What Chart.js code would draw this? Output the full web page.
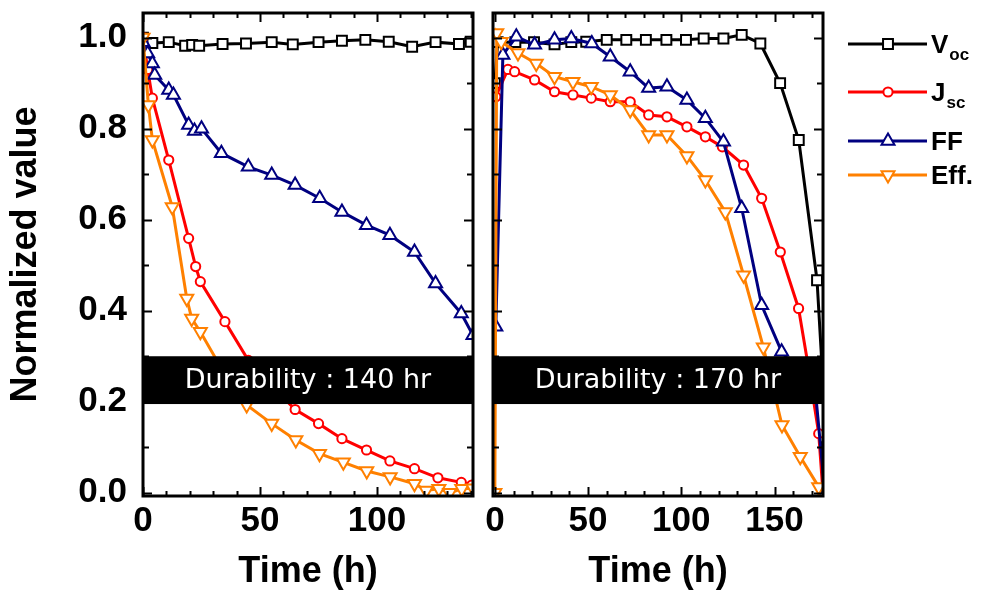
<!DOCTYPE html>
<html><head><meta charset="utf-8">
<script src="https://cdn.jsdelivr.net/npm/chart.js@4.4.1/dist/chart.umd.min.js"></script>
<style>
html,body{margin:0;padding:0;background:#fff;}
#wrap{position:relative;width:989px;height:590px;overflow:hidden;background:#fff;}
#c1{position:absolute;left:0;top:0;}
#c2{position:absolute;left:480px;top:0;}
</style></head><body>
<div id="wrap"><canvas id="c1" width="480" height="590"></canvas><canvas id="c2" width="509" height="590"></canvas></div>
<script>
// ---------- data ----------
const SERIES_LABELS = ['V', 'J', 'FF', 'Eff.'];
const SERIES_SUBS = ['oc', 'sc', '', ''];
const Y_TICKS = [0, 0.2, 0.4, 0.6, 0.8, 1.0];
const X_TICKS_LEFT = [0, 50, 100];
const X_TICKS_RIGHT = [0, 50, 100, 150];
const X_TITLE = 'Time (h)';
const Y_TITLE = 'Normalized value';
const BAND_TEXT_LEFT = 'Durability : 140 hr';
const BAND_TEXT_RIGHT = 'Durability : 170 hr';
const BAND_RANGE = [0.195, 0.3];

// left panel
const T_VOC_L = [0, 4, 11, 18, 21, 24, 34, 44, 55, 64, 75, 85, 95, 105, 115, 125, 135, 140];
const VOC_L   = [1.00, 0.988, 0.990, 0.982, 0.984, 0.982, 0.986, 0.987, 0.990, 0.985, 0.990, 0.993, 0.995, 0.991, 0.980, 0.990, 0.986, 0.991];
const T_JSC_L = [0, 2, 4, 11, 19.5, 22.5, 24.5, 35, 45, 55, 65, 75, 85, 95.5, 105.5, 116, 126, 136, 140.5];
const JSC_L   = [1.00, 0.93, 0.867, 0.731, 0.559, 0.497, 0.464, 0.376, 0.291, 0.235, 0.183, 0.152, 0.119, 0.094, 0.070, 0.053, 0.033, 0.023, 0.017];
const T_FF_L  = [0, 2, 4, 5, 11, 13, 19.5, 22, 25, 33.5, 45, 55, 65, 75.5, 85, 95.5, 105.5, 116, 125, 136, 141];
const FF_L    = [0.99, 0.965, 0.943, 0.918, 0.885, 0.874, 0.808, 0.795, 0.80, 0.746, 0.716, 0.698, 0.676, 0.647, 0.617, 0.588, 0.566, 0.529, 0.46, 0.394, 0.346];
const T_EFF_L = [0, 2.3, 4, 12.5, 18.7, 20.8, 24.5, 35, 44.3, 55, 65.3, 75.4, 85.6, 95.6, 105.6, 116, 121, 126.4, 131, 136.2, 141];
const EFF_L   = [1.00, 0.852, 0.775, 0.628, 0.427, 0.383, 0.354, 0.26, 0.193, 0.152, 0.116, 0.086, 0.067, 0.048, 0.035, 0.020, 0.005, 0.009, 0.0, 0.009, 0.01];

// right panel
const T_VOC_R = [0, 1.5, 11, 21, 32, 41, 49, 60, 70.5, 81, 92, 102.5, 112, 122.6, 132.4, 142.4, 153, 163, 172.8, 178];
const VOC_R   = [0.90, 0.99, 0.99, 0.99, 0.985, 0.99, 0.991, 0.995, 0.995, 0.995, 0.995, 0.995, 0.998, 0.998, 1.006, 0.987, 0.90, 0.775, 0.467, 0.1];
const T_JSC_R = [0.5, 7, 10.6, 21.3, 32, 41.9, 51.7, 61.9, 72.6, 82.5, 92.3, 103, 112.9, 122, 133.4, 143.1, 153.1, 162.9, 168, 173.7, 176];
const JSC_R   = [0.87, 0.93, 0.925, 0.907, 0.881, 0.874, 0.867, 0.859, 0.859, 0.830, 0.826, 0.804, 0.782, 0.76, 0.72, 0.647, 0.529, 0.405, 0.28, 0.13, 0.0];
const T_FF_R  = [0.5, 4.3, 11.5, 21.3, 32, 41, 52, 61.9, 72.6, 82.5, 92.3, 103, 112.9, 122.6, 132.4, 143.1, 153.8, 164, 172, 177];
const FF_R    = [0.365, 0.962, 1.002, 0.984, 0.995, 0.998, 0.987, 0.958, 0.925, 0.889, 0.892, 0.863, 0.823, 0.771, 0.625, 0.412, 0.31, 0.26, 0.22, 0.0];
const T_EFF_R = [0, 1, 3.4, 12.4, 22.2, 32, 41.9, 51.7, 61.9, 72.6, 82.5, 92.3, 103, 112.9, 123.6, 133.4, 144, 154, 163.8, 173.7];
const EFF_R   = [0.0, 1.01, 0.991, 0.966, 0.943, 0.914, 0.903, 0.892, 0.874, 0.841, 0.786, 0.786, 0.74, 0.687, 0.617, 0.478, 0.32, 0.149, 0.079, 0.013];

// ---------- styles ----------
const FONT = '"Liberation Sans", Arial, Helvetica, sans-serif';
const STYLES = [
  {color: '#000000', pointStyle: 'rect', radius: 7, rotation: 0},
  {color: '#ff0000', pointStyle: 'circle', radius: 4.6, rotation: 0},
  {color: '#000080', pointStyle: 'triangle', radius: 7.5, rotation: 0},
  {color: '#ff8000', pointStyle: 'triangle', radius: 7.5, rotation: 180}
];

function pts(t, v) { return t.map((x, i) => ({x: x, y: v[i]})); }

function makeDatasets(sets) {
  return sets.map((s, i) => ({
    label: SERIES_LABELS[i] + SERIES_SUBS[i],
    data: pts(s[0], s[1]),
    borderColor: STYLES[i].color,
    backgroundColor: '#ffffff',
    pointBackgroundColor: '#ffffff',
    pointBorderColor: STYLES[i].color,
    pointStyle: STYLES[i].pointStyle,
    pointRotation: STYLES[i].rotation,
    pointRadius: STYLES[i].radius,
    pointBorderWidth: 2,
    borderWidth: 3,
    tension: 0,
    order: 3 - i
  }));
}

const framePlugin = {
  id: 'frame',
  afterDatasetsDraw(chart, args, opts) {
    const ctx = chart.ctx, a = chart.chartArea;
    const xs = chart.scales.x, ys = chart.scales.y;
    ctx.save();
    ctx.strokeStyle = '#000';
    ctx.lineWidth = 2;
    for (let v = 0; v <= xs.max + 1e-9; v += 10) {
      const px = Math.round(xs.getPixelForValue(v)) + 0.5;
      const major = opts.xMajor.includes(v);
      const len = major ? 9 : 5;
      ctx.beginPath();
      ctx.moveTo(px, a.bottom); ctx.lineTo(px, a.bottom - len);
      ctx.moveTo(px, a.top); ctx.lineTo(px, a.top + len);
      ctx.stroke();
    }
    for (let k = 0; k <= 10; k++) {
      const v = k / 10;
      const py = Math.round(ys.getPixelForValue(v)) + 0.5;
      const len = (k % 2 === 0) ? 9 : 6;
      ctx.beginPath();
      ctx.moveTo(a.left, py); ctx.lineTo(a.left + len, py);
      ctx.moveTo(a.right, py); ctx.lineTo(a.right - len, py);
      ctx.stroke();
    }
    ctx.lineWidth = 3;
    ctx.strokeRect(a.left, a.top, a.right - a.left, a.bottom - a.top);
    const yTop = ys.getPixelForValue(BAND_RANGE[1]);
    const yBot = ys.getPixelForValue(BAND_RANGE[0]);
    ctx.fillStyle = '#000';
    ctx.fillRect(a.left - 1, yTop, a.right - a.left + 2, yBot - yTop);
    ctx.fillStyle = '#fff';
    ctx.font = '27px "DejaVu Sans", Verdana, sans-serif';
    ctx.textAlign = 'center';
    ctx.textBaseline = 'middle';
    ctx.fillText(opts.bandText, (a.left + a.right) / 2, (yTop + yBot) / 2 + 1);
    ctx.restore();
  }
};

const legendPlugin = {
  id: 'customLegend',
  afterDraw(chart, args, opts) {
    if (!opts.show) return;
    const ctx = chart.ctx;
    const ys = [44, 92, 141, 175];
    const x0 = 368, x1 = 447, xm = 408, xt = 451;
    ctx.save();
    for (let i = 0; i < 4; i++) {
      const st = STYLES[i];
      ctx.strokeStyle = st.color;
      ctx.lineWidth = 3;
      ctx.beginPath(); ctx.moveTo(x0, ys[i]); ctx.lineTo(x1, ys[i]); ctx.stroke();
      ctx.fillStyle = '#fff';
      ctx.lineWidth = 2;
      Chart.helpers.drawPoint(ctx, {pointStyle: st.pointStyle, rotation: st.rotation, radius: st.radius, borderWidth: 2}, xm, ys[i]);
      ctx.fillStyle = '#000';
      ctx.textAlign = 'left';
      ctx.textBaseline = 'alphabetic';
      ctx.font = 'bold 26px ' + FONT;
      const base = ys[i] + 9;
      ctx.fillText(SERIES_LABELS[i], xt, base);
      if (SERIES_SUBS[i]) {
        const w = ctx.measureText(SERIES_LABELS[i]).width;
        ctx.font = 'bold 17px ' + FONT;
        ctx.fillText(SERIES_SUBS[i], xt + w + 1, base + 7);
      }
    }
    ctx.restore();
  }
};

function makeChart(id, sets, xMin, xMax, xTicks, showY, padding, bandText, showLegend) {
  return new Chart(document.getElementById(id), {
    type: 'line',
    data: {datasets: makeDatasets(sets)},
    plugins: [framePlugin, legendPlugin],
    options: {
      responsive: false,
      animation: false,
      devicePixelRatio: 1,
      layout: {padding: padding, autoPadding: false},
      plugins: {
        legend: {display: false},
        tooltip: {enabled: false},
        frame: {bandText: bandText, xMajor: xTicks},
        customLegend: {show: showLegend}
      },
      scales: {
        x: {
          type: 'linear', min: xMin, max: xMax,
          grid: {display: false, drawTicks: false},
          border: {display: false},
          afterBuildTicks: s => { s.ticks = xTicks.map(v => ({value: v})); },
          afterFit: s => { s.height = 94; s.paddingLeft = 0; s.paddingRight = 0; },
          ticks: {color: '#000', font: {family: FONT, size: 35, weight: 'bold'}, padding: 4, maxRotation: 0, autoSkip: false},
          title: {display: true, text: X_TITLE, color: '#000', font: {family: FONT, size: 36, weight: 'bold', lineHeight: 1}, padding: {top: 0, bottom: 0}}
        },
        y: {
          type: 'linear', min: -0.007, max: 1.054,
          display: showY,
          grid: {display: false, drawTicks: false},
          border: {display: false},
          afterBuildTicks: s => { s.ticks = Y_TICKS.map(v => ({value: v})); },
          afterFit: s => { if (showY) s.width = 143; s.paddingTop = 0; s.paddingBottom = 0; },
          ticks: {color: '#000', font: {family: FONT, size: 35, weight: 'bold'}, padding: 16, callback: v => Number(v).toFixed(1)},
          title: {display: true, text: Y_TITLE, color: '#000', font: {family: FONT, size: 36, weight: 'bold', lineHeight: 1}, padding: {top: 8, bottom: 0}}
        }
      }
    }
  });
}

makeChart('c1', [[T_VOC_L, VOC_L], [T_JSC_L, JSC_L], [T_FF_L, FF_L], [T_EFF_L, EFF_L]],
  0, 141, X_TICKS_LEFT, true, {left: 0, right: 7, top: 13, bottom: 0}, BAND_TEXT_LEFT, false);
makeChart('c2', [[T_VOC_R, VOC_R], [T_JSC_R, JSC_R], [T_FF_R, FF_R], [T_EFF_R, EFF_R]],
  -1, 176, X_TICKS_RIGHT, false, {left: 13, right: 166, top: 13, bottom: 0}, BAND_TEXT_RIGHT, true);
</script>
</body></html>
